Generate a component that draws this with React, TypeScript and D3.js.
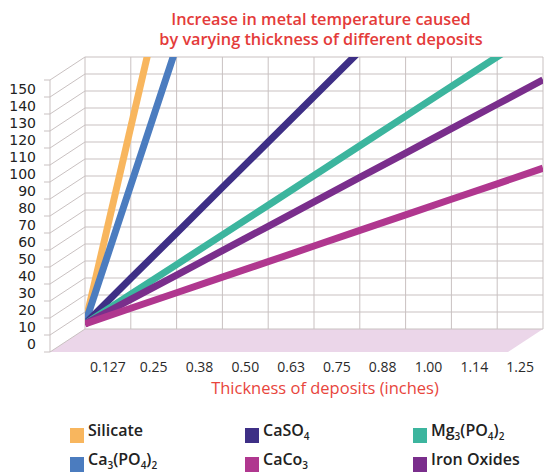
import React from "react";
import * as d3 from "d3";

const width = 544;
const height = 473;
const wall = { left: 85, right: 543, top: 57, bottom: 329 }; // back wall in px
const depth = { dx: -35, dy: 23 }; // 3d offset of the front edge
const gridColor = "#c9c1c1";
const font = "'Open Sans', 'DejaVu Sans', sans-serif";

// thickness categories (inches), one per column of the back wall
const thickness = ["0.127", "0.25", "0.38", "0.50", "0.63", "0.75", "0.88", "1.00", "1.14", "1.25"];
// y tick labels
const tempTicks = [0, 10, 20, 30, 40, 50, 60, 70, 80, 90, 100, 110, 120, 130, 140, 150];

// series values read at each vertical gridline (0 = left edge of the wall)
const silicate = [3, 118.8, 234.6];
const ca3po4 = [3, 84.6, 166.2];
const caso4 = [3, 29.8, 56.5, 83.3, 110, 136.8, 163.5];
const mg3po4 = [3, 20.5, 37.9, 55.4, 72.8, 90.3, 107.8, 125.2, 142.7, 160.1, 177.6];
const ironOxides = [3, 17.4, 31.7, 46.1, 60.4, 74.8, 89.2, 103.5, 117.9, 132.2, 146.6];
const caco3 = [3, 12.2, 21.3, 30.5, 39.6, 48.8, 58, 67.1, 76.3, 85.4, 94.6];

interface Series {
  name: string;
  parts: [string, boolean][]; // text, subscript
  color: string;
  values: number[];
}

const series: Series[] = [
  { name: "Silicate", parts: [["Silicate", false]], color: "#f8b65e", values: silicate },
  { name: "Ca3(PO4)2", parts: [["Ca", false], ["3", true], ["(PO", false], ["4", true], [")", false], ["2", true]], color: "#4b7cbf", values: ca3po4 },
  { name: "CaSO4", parts: [["CaSO", false], ["4", true]], color: "#3e2f86", values: caso4 },
  { name: "Mg3(PO4)2", parts: [["Mg", false], ["3", true], ["(PO", false], ["4", true], [")", false], ["2", true]], color: "#3cb59e", values: mg3po4 },
  { name: "Iron Oxides", parts: [["Iron Oxides", false]], color: "#7a2e8c", values: ironOxides },
  { name: "CaCo3", parts: [["CaCo", false], ["3", true]], color: "#b0378f", values: caco3 },
];

// legend layout: [series name, column, row]
const legendOrder: [string, number, number][] = [
  ["Silicate", 0, 0],
  ["CaSO4", 1, 0],
  ["Mg3(PO4)2", 2, 0],
  ["Ca3(PO4)2", 0, 1],
  ["CaCo3", 1, 1],
  ["Iron Oxides", 2, 1],
];
const legendX = [70, 245, 413];
const legendY = [428, 457];

const x = d3.scaleLinear().domain([0, thickness.length]).range([wall.left, wall.right]);
const y = d3.scaleLinear().domain([0, 160]).range([wall.bottom, wall.top]);

const line = d3
  .line<number>()
  .x((_, i) => x(i))
  .y((d) => y(d));

const App = () => {
  const hLines = d3.range(0, 161, 10);
  const vLines = d3.range(0, thickness.length + 1);
  return (
    <svg
      width={width}
      height={height}
      style={{ position: "absolute", left: 0, top: 0, background: "#fff" }}
    >
      <defs>
        <clipPath id="wallClip">
          <rect x={wall.left} y={wall.top} width={wall.right - wall.left} height={wall.bottom - wall.top} />
        </clipPath>
      </defs>

      {/* title */}
      <g fill="#e43b3a" fontFamily={font} fontWeight={600} fontSize={16.3} textAnchor="middle">
        <text x={321} y={25}>Increase in metal temperature caused</text>
        <text x={321} y={45}>by varying thickness of different deposits</text>
      </g>

      {/* floor */}
      <polygon
        points={[
          [wall.left, wall.bottom],
          [wall.right, wall.bottom],
          [wall.right + depth.dx, wall.bottom + depth.dy],
          [wall.left + depth.dx, wall.bottom + depth.dy],
        ]
          .map((p) => p.join(","))
          .join(" ")}
        fill="#ebd6e9"
      />

      {/* left wall */}
      <g stroke={gridColor} strokeWidth={1}>
        {hLines.map((v) => (
          <line key={"s" + v} x1={wall.left + depth.dx} y1={y(v) + depth.dy} x2={wall.left} y2={y(v)} />
        ))}
        {hLines.map((v) => (
          <line key={"t" + v} x1={wall.left + depth.dx - 6} y1={y(v) + depth.dy} x2={wall.left + depth.dx} y2={y(v) + depth.dy} />
        ))}
        <line x1={wall.left + depth.dx} y1={y(160) + depth.dy} x2={wall.left + depth.dx} y2={y(0) + depth.dy} />
      </g>

      {/* back wall grid */}
      <g stroke={gridColor} strokeWidth={1}>
        {hLines.map((v) => (
          <line key={"h" + v} x1={wall.left} x2={wall.right} y1={y(v)} y2={y(v)} />
        ))}
        {vLines.map((i) => (
          <line key={"v" + i} x1={x(i)} x2={x(i)} y1={wall.top} y2={wall.bottom} />
        ))}
      </g>

      {/* y labels, centred in each band at the front */}
      <g fontFamily="'DejaVu Sans', sans-serif" fontSize={14} fill="#222" textAnchor="end">
        {tempTicks.map((v) => (
          <text key={v} x={36} y={y(v + 5) + depth.dy} dy="0.36em">
            {v}
          </text>
        ))}
      </g>

      {/* series lines */}
      <g clipPath="url(#wallClip)" fill="none" strokeWidth={7}>
        {series.map((s) => (
          <path key={s.name} d={line(s.values) || ""} stroke={s.color} />
        ))}
      </g>

      {/* x labels */}
      <g fontFamily={font} fontSize={14} fontWeight={500} fill="#2a2a2a" textAnchor="middle">
        {thickness.map((t, i) => (
          <text key={t} x={x(i + 0.5)} y={367} dy="0.35em">
            {t}
          </text>
        ))}
      </g>
      <text x={325} y={394} fill="#e8453c" fontFamily={font} fontSize={16.5} fontWeight={500} textAnchor="middle">
        Thickness of deposits (inches)
      </text>

      {/* legend */}
      <g fontFamily={font} fontSize={16} fontWeight={600} fill="#222">
        {legendOrder.map(([name, col, row]) => {
          const s = series.find((d) => d.name === name)!;
          return (
            <g key={name} transform={`translate(${legendX[col]},${legendY[row]})`}>
              <rect width={14} height={15} fill={s.color} />
              <text x={18} y={7.5} dy="0.35em">
                {s.parts.map(([t, sub], j) =>
                  sub ? (
                    <tspan key={j} fontSize={10} dy={4}>
                      {t}
                    </tspan>
                  ) : (
                    <tspan key={j} dy={j > 0 && s.parts[j - 1][1] ? -4 : 0}>
                      {t}
                    </tspan>
                  )
                )}
              </text>
            </g>
          );
        })}
      </g>
    </svg>
  );
};

export default App;
